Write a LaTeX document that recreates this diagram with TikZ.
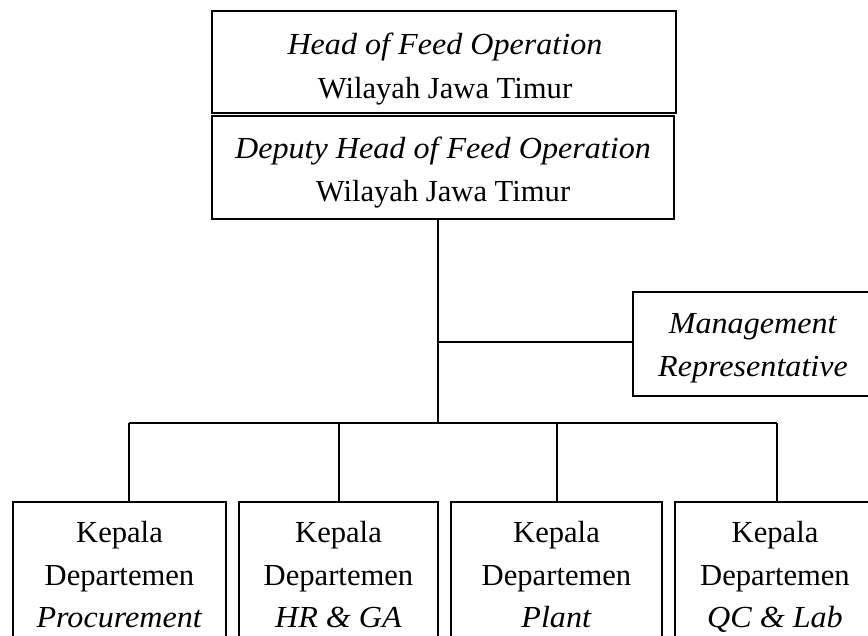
\documentclass[tikz,border=0pt]{standalone}
\usepackage{fontspec}
\setmainfont{Liberation Serif}[ItalicFeatures={FakeStretch=1.05}]
\begin{document}
\begin{tikzpicture}[x=1pt,y=-1pt,
  box/.style={draw,line width=1.2pt,inner sep=0pt},
  lbl/.style={anchor=base,inner sep=0pt,font=\fontsize{30.6}{43}\selectfont},
  conn/.style={line width=1.2pt}]
\useasboundingbox (0,0) rectangle (868,635);
\clip (0,0) rectangle (868,635);
% boxes
\node[box,minimum width=464pt,minimum height=102pt] (head) at (444,62) {};
\node[box,minimum width=462pt,minimum height=103pt] (deputy) at (443,167.5) {};
\node[box,minimum width=240pt,minimum height=104pt] (mr) at (753,344) {};
\node[box,minimum width=213pt,minimum height=150pt] (d1) at (119.5,577) {};
\node[box,minimum width=199pt,minimum height=150pt] (d2) at (338.5,577) {};
\node[box,minimum width=211pt,minimum height=150pt] (d3) at (556.5,577) {};
\node[box,minimum width=200pt,minimum height=150pt] (d4) at (775,577) {};
% texts
\node[lbl] (head1) at (445,54) {\textit{Head of Feed Operation}};
\node[lbl] (head2) at (445,98) {Wilayah Jawa Timur};
\node[lbl] (dep1) at (443,158) {\textit{Deputy Head of Feed Operation}};
\node[lbl] (dep2) at (443,201) {Wilayah Jawa Timur};
\node[lbl] (mr1) at (753,333) {\textit{Management}};
\node[lbl] (mr2) at (753,376) {\textit{Representative}};
\node[lbl] (d1a) at (119.5,542) {Kepala};
\node[lbl] (d1b) at (119.5,585) {Departemen};
\node[lbl] (d1c) at (119.5,627) {\textit{Procurement}};
\node[lbl] (d2a) at (338.5,542) {Kepala};
\node[lbl] (d2b) at (338.5,585) {Departemen};
\node[lbl] (d2c) at (338.5,627) {\textit{HR \& GA}};
\node[lbl] (d3a) at (556.5,542) {Kepala};
\node[lbl] (d3b) at (556.5,585) {Departemen};
\node[lbl] (d3c) at (556.5,627) {\textit{Plant}};
\node[lbl] (d4a) at (775,542) {Kepala};
\node[lbl] (d4b) at (775,585) {Departemen};
\node[lbl] (d4c) at (775,627) {\textit{QC \& Lab}};
% connectors
\coordinate (top) at (438,219);
\coordinate (mj) at (438,342);
\coordinate (bus) at (438,423);
\coordinate (b1) at (129,423);
\coordinate (b2) at (339,423);
\coordinate (b3) at (557,423);
\coordinate (b4) at (777,423);
\draw[conn] (top) -- (bus);
\draw[conn] (mj) -- (mr.west |- mj);
\draw[conn] (b1) -- (b4);
\draw[conn] (b1) -- (b1 |- d1.north);
\draw[conn] (b2) -- (b2 |- d2.north);
\draw[conn] (b3) -- (b3 |- d3.north);
\draw[conn] (b4) -- (b4 |- d4.north);
\end{tikzpicture}
\end{document}
